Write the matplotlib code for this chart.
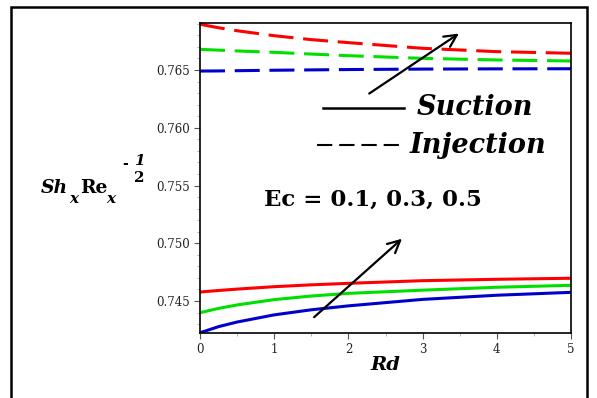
import matplotlib
matplotlib.use('Agg')
from matplotlib import pyplot as plt
from matplotlib import patches as mpatches
import numpy as np

plt.rcParams['lines.scale_dashes'] = False
serif = ['DejaVu Serif']

# values
rd = [0, 0.25, 0.5, 1, 1.5, 2, 3, 4, 5]
suction = {
    'red':   [0.74578, 0.74591, 0.74603, 0.74624, 0.74640, 0.74653, 0.74676, 0.74688, 0.74697],
    'green': [0.74399, 0.74436, 0.74466, 0.74512, 0.74543, 0.74566, 0.74594, 0.74619, 0.74636],
    'blue':  [0.74225, 0.74278, 0.74318, 0.74380, 0.74424, 0.74458, 0.74514, 0.74550, 0.74575],
}
injection = {
    'red':   [0.76896, 0.76866, 0.76840, 0.76797, 0.76763, 0.76737, 0.76688, 0.76659, 0.76645],
    'green': [0.76679, 0.76672, 0.76665, 0.76653, 0.76638, 0.76624, 0.76601, 0.76587, 0.76578],
    'blue':  [0.76491, 0.76492, 0.76494, 0.76498, 0.76501, 0.76504, 0.76508, 0.76510, 0.76511],
}
colors = {'red': '#ff0000', 'green': '#00e000', 'blue': '#0000cc'}
yticks = [0.745, 0.750, 0.755, 0.760, 0.765]

W, H = 597, 398
fig = plt.figure(figsize=(W / 100, H / 100), dpi=100)
ax = fig.add_axes([200 / W, 1 - 333 / H, 371 / W, 310 / H])

for name in ['red', 'green', 'blue']:
    ax.plot(rd, suction[name], color=colors[name], lw=2.2)
    ax.plot(rd, injection[name], color=colors[name], lw=2.2, dashes=(18, 7))

ax.set_xlim(0, 5)
ax.set_ylim(0.74223, 0.76907)
ax.set_xticks([0, 1, 2, 3, 4, 5])
ax.set_xticks(np.arange(0, 5.01, 0.5), minor=True)
ax.set_yticks(yticks)
ax.set_yticks(np.arange(0.743, 0.769, 0.001), minor=True)
ax.set_yticklabels([f'{v:.3f}' for v in yticks])
ax.tick_params(labelsize=8.5, length=4, color='#555555', width=0.8)
ax.tick_params(which='minor', length=2, color='#aaaaaa')
for lab in ax.get_xticklabels() + ax.get_yticklabels():
    lab.set_family(serif)
    lab.set_color('#222222')
for sp in ax.spines.values():
    sp.set_linewidth(1.2)

ax.set_xlabel('Rd', family=serif, fontsize=14, fontweight='bold',
              style='italic', labelpad=0)


def ftext(px, py, s, **kw):
    # place text by pixel position (baseline)
    fig.text(px / W, 1 - py / H, s, family=serif, fontweight='bold',
             va='baseline', ha='left', **kw)


# y label: Sh_x Re_x ^(-1/2)
ftext(41, 193, 'Sh', fontsize=13.5, style='italic')
ftext(69, 203, 'x', fontsize=11, style='italic')
ftext(80, 193, 'Re', fontsize=13.5)
ftext(106, 203, 'x', fontsize=11, style='italic')
ftext(122, 168, '-', fontsize=10)
ftext(134, 165, '1', fontsize=11, style='italic')
ftext(134, 182, '2', fontsize=11)

# arrows
ax.annotate('', xy=(3.52, 0.76829), xytext=(2.25, 0.76283),
            arrowprops=dict(arrowstyle='->', lw=1.6, color='black',
                            mutation_scale=22))
ax.annotate('', xy=(2.75, 0.75055), xytext=(1.51, 0.74344),
            arrowprops=dict(arrowstyle='->', lw=1.6, color='black',
                            mutation_scale=22))

# key
ax.plot([1.66, 2.75], [0.76171, 0.76171], color='black', lw=1.8)
ax.text(2.92, 0.76179, 'Suction', family=serif, fontsize=19.5,
        fontweight='bold', style='italic', va='center')
ax.plot([1.58, 2.74], [0.7585, 0.7585], color='black', lw=1.5, dashes=(11, 5))
ax.text(2.83, 0.7585, 'Injection', family=serif, fontsize=19.5,
        fontweight='bold', style='italic', va='center')
ax.text(0.86, 0.7538, 'Ec = 0.1, 0.3, 0.5', family=serif, fontsize=16.5,
        fontweight='bold', va='center')

# outer frame
fig.patches.append(mpatches.Rectangle((11 / W, -0.1), 576 / W, 1.1 - 7 / H,
                                      transform=fig.transFigure, fill=False,
                                      lw=1.8, edgecolor='black'))

fig.savefig('out.png', dpi=100)
